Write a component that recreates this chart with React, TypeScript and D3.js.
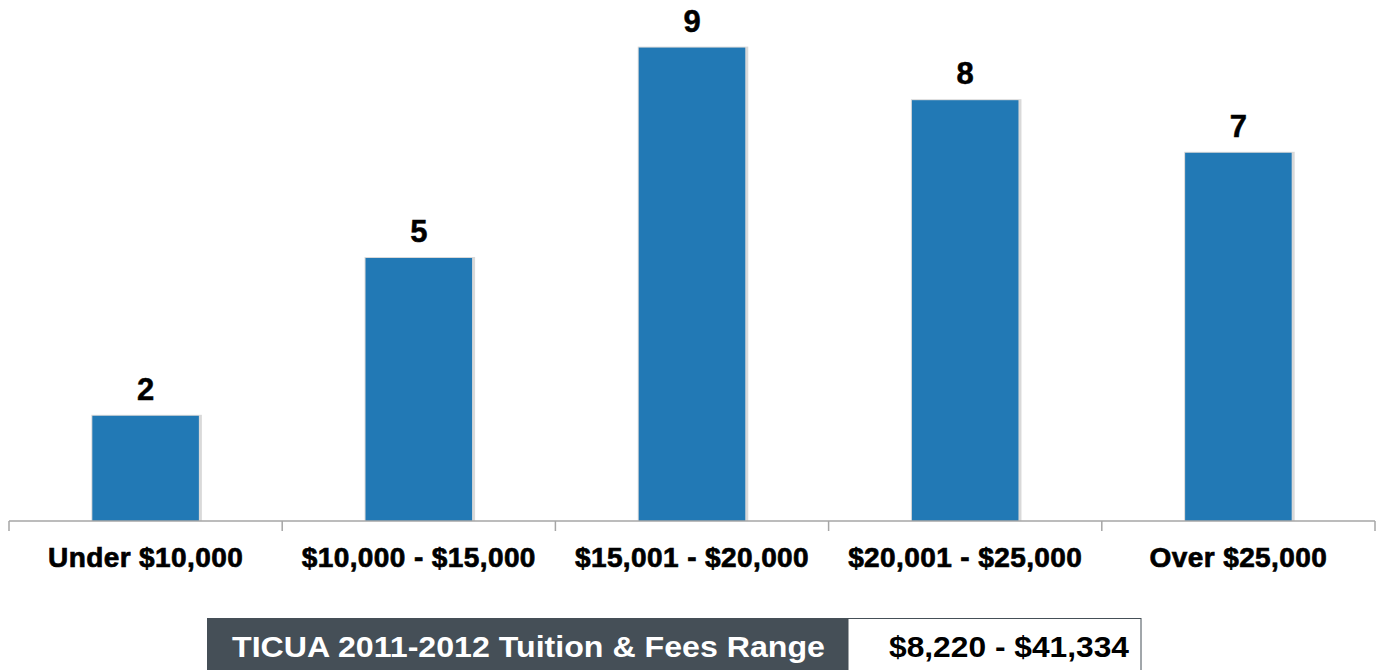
import React, { useRef, useEffect } from "react";
import * as d3 from "d3";

const categories = [
  "Under $10,000",
  "$10,000 - $15,000",
  "$15,001 - $20,000",
  "$20,001 - $25,000",
  "Over $25,000",
];
const counts = [2, 5, 9, 8, 7];
const rangeLabel = "TICUA 2011-2012 Tuition & Fees Range";
const rangeValue = "$8,220 - $41,334";

export default function App() {
  const ref = useRef<SVGSVGElement>(null);

  useEffect(() => {
    const width = 1380;
    const height = 670;
    const svg = d3.select(ref.current);
    svg.selectAll("*").remove();
    svg.attr("width", width).attr("height", height);

    const axisY = 521;
    const x = d3.scaleBand().domain(categories).range([9, 1375]).paddingInner(0.61).paddingOuter(0.305);
    const y = d3.scaleLinear().domain([0, 10]).range([axisY, axisY - 526]);

    // soft shadow behind bars
    svg
      .append("g")
      .selectAll("rect")
      .data(counts)
      .join("rect")
      .attr("x", (d, i) => x(categories[i])! - 1)
      .attr("y", (d) => y(d) - 1)
      .attr("width", x.bandwidth() + 4)
      .attr("height", (d) => axisY - y(d) + 1)
      .attr("fill", "#d9d9d9");

    svg
      .append("g")
      .selectAll("rect")
      .data(counts)
      .join("rect")
      .attr("x", (d, i) => x(categories[i])!)
      .attr("y", (d) => y(d))
      .attr("width", x.bandwidth())
      .attr("height", (d) => axisY - y(d))
      .attr("fill", "#2279b5");

    svg
      .append("g")
      .selectAll("text")
      .data(counts)
      .join("text")
      .attr("x", (d, i) => x(categories[i])! + x.bandwidth() / 2)
      .attr("y", (d) => y(d) - 16)
      .attr("text-anchor", "middle")
      .attr("font-family", "Liberation Sans, Arial, sans-serif")
      .attr("font-weight", "bold")
      .attr("font-size", 31)
      .attr("stroke", "#000")
      .attr("stroke-width", 0.5)
      .text((d) => d);

    // axis
    const axis = svg.append("g").attr("stroke", "#a6a6a6").attr("stroke-width", 1.5);
    axis.append("line").attr("x1", 9).attr("x2", 1375).attr("y1", axisY).attr("y2", axisY);
    const bounds = [9, ...categories.map((c) => x(c)! + x.bandwidth() + (x.step() * 0.61) / 2)];
    axis
      .selectAll("line.tick")
      .data(bounds)
      .join("line")
      .attr("class", "tick")
      .attr("x1", (d) => d)
      .attr("x2", (d) => d)
      .attr("y1", axisY)
      .attr("y2", axisY + 10);

    svg
      .append("g")
      .selectAll("text")
      .data(categories)
      .join("text")
      .attr("x", (d) => x(d)! + x.bandwidth() / 2)
      .attr("y", 567)
      .attr("text-anchor", "middle")
      .attr("font-family", "Liberation Sans Narrow, Arial Narrow, sans-serif")
      .attr("font-weight", "bold")
      .attr("font-size", 28)
      .attr("letter-spacing", 0.4)
      .attr("fill", "#000")
      .attr("stroke", "#000")
      .attr("stroke-width", 0.7)
      .text((d) => d);

    // range box
    svg.append("rect").attr("x", 207).attr("y", 618).attr("width", 641).attr("height", 60).attr("fill", "#454f57");
    svg
      .append("rect")
      .attr("x", 848)
      .attr("y", 618.5)
      .attr("width", 293)
      .attr("height", 60)
      .attr("fill", "#fff")
      .attr("stroke", "#454f57")
      .attr("stroke-width", 1);
    svg
      .append("text")
      .attr("x", 232)
      .attr("y", 657)
      .attr("textLength", 593)
      .attr("lengthAdjust", "spacingAndGlyphs")
      .attr("font-family", "Liberation Sans, Arial, sans-serif")
      .attr("font-weight", "bold")
      .attr("font-size", 29)
      .attr("fill", "#fff")
      .text(rangeLabel);
    svg
      .append("text")
      .attr("x", 889)
      .attr("y", 657)
      .attr("textLength", 240)
      .attr("lengthAdjust", "spacingAndGlyphs")
      .attr("font-family", "Liberation Sans, Arial, sans-serif")
      .attr("font-weight", "bold")
      .attr("font-size", 29)
      .attr("fill", "#000")
      .text(rangeValue);
  }, []);

  return (
    <div style={{ position: "absolute", left: 0, top: 0 }}>
      <svg ref={ref} style={{ display: "block" }} />
    </div>
  );
}
